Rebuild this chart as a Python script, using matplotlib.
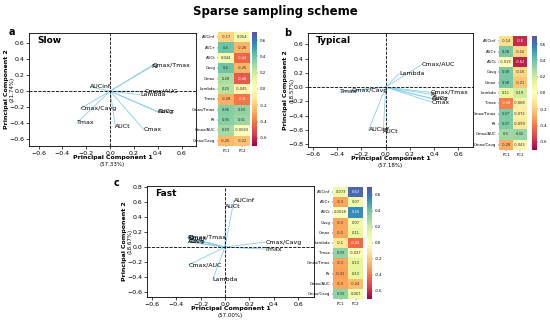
import matplotlib.pyplot as plt
import numpy as np
import seaborn as sns

W, H = 550, 320

variables = ["AUCinf", "AUCτ", "AUCt", "Cavg", "Cmax", "Lambda", "Tmax",
             "Cmax/Tmax", "Rt", "Cmax/AUC", "Cmax/Cavg"]
pc_names = ["PC1", "PC2"]

slow_pc1 = [-0.17, 0.40, 0.044, 0.40, 0.28, 0.25, -0.28, 0.36, 0.35, 0.29, -0.25]
slow_pc2 = [0.054, -0.26, -0.44, -0.26, -0.48, -0.045, -0.40, 0.33, 0.31, -0.0043, -0.22]

typical_pc1 = [-0.14, 0.38, -0.019, 0.38, 0.38, 0.11, -0.38, 0.37, 0.37, 0.30, -0.28]
typical_pc2 = [-0.60, -0.16, -0.62, -0.16, -0.21, 0.19, -0.068, -0.072, -0.099, 0.32, -0.043]

fast_pc1 = [0.073, -0.30, 0.0028, -0.30, -0.30, -0.10, 0.33, -0.30, -0.31, -0.30, 0.33]
fast_pc2 = [0.63, 0.07, 0.55, 0.07, 0.11, -0.43, -0.027, 0.13, 0.13, -0.24, 0.067]

panels = [
    # letter, name, pc1, pc2, var1, var2
    ("a", "Slow", slow_pc1, slow_pc2, "57.33%", "21.74%"),
    ("b", "Typical", typical_pc1, typical_pc2, "57.18%", "18.57%"),
    ("c", "Fast", fast_pc1, fast_pc2, "57.00%", "18.67%"),
]

# pixel boxes (left, top, right, bottom)
biplot_boxes = [(29, 33, 196, 146), (308, 33, 473, 147), (147, 186, 314, 297)]
biplot_lims = [((-0.68, 0.72), (-0.69, 0.73)),
               ((-0.64, 0.72), (-0.84, 0.76)),
               ((-0.64, 0.73), (-0.67, 0.82))]
heat_boxes = [(218, 32, 250, 146), (499, 36, 527, 150), (333, 187, 363, 299)]
cbar_boxes = [(252, 32, 257, 146), (532, 36, 537, 150), (367, 187, 372, 299)]
letter_pos = [(12, 32), (288, 33), (117, 183)]


def box(b):
    l, t, r, bt = b
    return [l / W, 1 - bt / H, (r - l) / W, (bt - t) / H]


def biplot(fig, i):
    letter, name, pc1, pc2, var1, var2 = panels[i]
    ax = fig.add_axes(box(biplot_boxes[i]))
    for x, y, lab in zip(pc1, pc2, variables):
        ax.plot([0, x], [0, y], color="#87ceeb", lw=0.6)
        ax.text(x, y, lab, fontsize=4.5, ha="left", va="center")
    ax.axhline(0, color="k", ls="--", lw=0.6)
    ax.axvline(0, color="k", ls="--", lw=0.6)
    ax.set_xlim(biplot_lims[i][0])
    ax.set_xticks(np.arange(-0.6, 0.61, 0.2))
    ax.set_yticks(np.arange(-0.8, 0.81, 0.2))
    ax.set_ylim(biplot_lims[i][1])
    ax.tick_params(labelsize=4.5, length=2, width=0.5, pad=1.5)
    for s in ax.spines.values():
        s.set_linewidth(0.6)
    ax.text(0.05, 0.93, name, transform=ax.transAxes, fontsize=6.5,
            fontweight="bold", va="center")
    ax.text(0.5, -0.105, "Principal Component 1", transform=ax.transAxes,
            fontsize=4.5, fontweight="bold", ha="center", va="center")
    ax.text(0.5, -0.165, "(" + var1 + ")", transform=ax.transAxes,
            fontsize=4, ha="center", va="center")
    ax.text(-0.135, 0.5, "Principal Component 2", transform=ax.transAxes,
            fontsize=4.5, fontweight="bold", ha="center", va="center", rotation=90)
    ax.text(-0.1, 0.5, "(" + var2 + ")", transform=ax.transAxes,
            fontsize=4, ha="center", va="center", rotation=90)
    lx, ly = letter_pos[i]
    fig.text(lx / W, 1 - ly / H, letter, fontsize=7, fontweight="bold",
             ha="center", va="center")


def heat(fig, i):
    _, _, pc1, pc2, _, _ = panels[i]
    hax = fig.add_axes(box(heat_boxes[i]))
    cax = fig.add_axes(box(cbar_boxes[i]))
    data = np.column_stack([pc1, pc2])
    sns.heatmap(data, ax=hax, cbar_ax=cax, cmap="Spectral", vmin=-0.7, vmax=0.7,
                annot=True, fmt=".2g", annot_kws={"size": 2.6},
                xticklabels=pc_names, yticklabels=variables)
    hax.tick_params(labelsize=2.8, length=1, width=0.3, pad=1)
    hax.set_yticklabels(variables, rotation=0)
    hax.set_xticklabels(pc_names, rotation=0)
    cax.set_yticks(np.arange(-0.6, 0.61, 0.2))
    cax.set_yticklabels(["%.1f" % v for v in np.arange(-0.6, 0.61, 0.2)])
    cax.tick_params(labelsize=2.8, length=1, width=0.3, pad=1)


def main():
    fig = plt.figure(figsize=(W / 100, H / 100), dpi=100)
    fig.text(275 / W, 1 - 12 / H, "Sparse sampling scheme", fontsize=8.5,
             fontweight="bold", ha="center", va="center")
    for i in range(3):
        biplot(fig, i)
        heat(fig, i)
    fig.savefig("out.png", dpi=100)


if __name__ == "__main__":
    main()
